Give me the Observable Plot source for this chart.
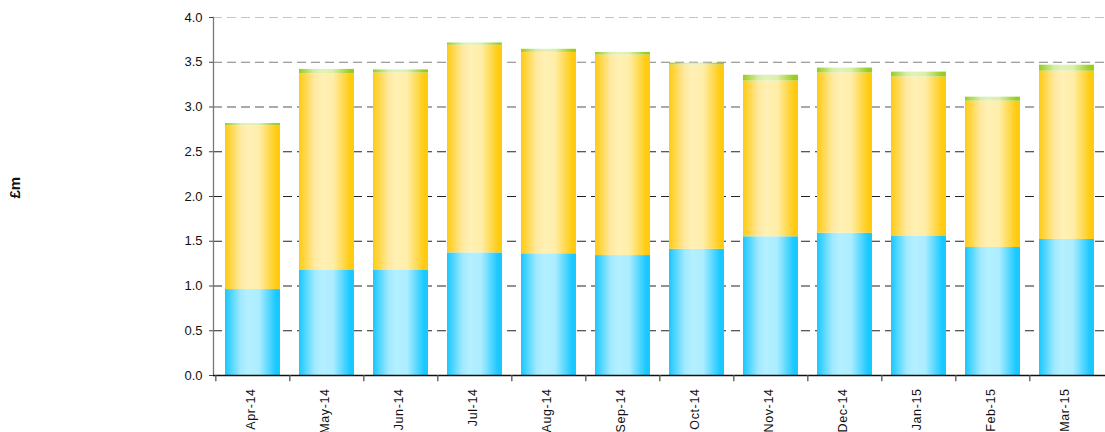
<!DOCTYPE html>
<html>
<head>
<meta charset="utf-8">
<script src="https://cdn.jsdelivr.net/npm/d3@7"></script>
<script src="https://cdn.jsdelivr.net/npm/@observablehq/plot@0.6"></script>
<style>
  html, body { margin: 0; padding: 0; background: #fff; }
  #chart svg { display: block; font-family: "Liberation Sans", Arial, sans-serif; }
</style>
</head>
<body>
<div id="chart"></div>
<script>
const months = ["Apr-14","May-14","Jun-14","Jul-14","Aug-14","Sep-14","Oct-14","Nov-14","Dec-14","Jan-15","Feb-15","Mar-15"];
const seriesNames = ["blue", "yellow", "green"];
const blueValues   = [0.96, 1.18, 1.18, 1.37, 1.36, 1.34, 1.41, 1.55, 1.59, 1.56, 1.43, 1.52];
const yellowValues = [1.83, 2.19, 2.20, 2.32, 2.25, 2.24, 2.06, 1.74, 1.79, 1.775, 1.635, 1.88];
const greenValues  = [0.025, 0.05, 0.035, 0.025, 0.035, 0.03, 0.02, 0.065, 0.055, 0.055, 0.045, 0.067];
const yTicks = [0, 0.5, 1.0, 1.5, 2.0, 2.5, 3.0, 3.5, 4.0];
const yLabel = "£m";

const seriesValues = {blue: blueValues, yellow: yellowValues, green: greenValues};
const data = [];
months.forEach((m, i) => {
  seriesNames.forEach(s => data.push({month: m, series: s, value: seriesValues[s][i]}));
});

const W = 1105, H = 432;
const mL = 213, mR = 0, mT = 17, mB = 57;
const step = (W - mL - mR) / months.length;

function gridColor(v) {
  if (v === 4) return "#c4c4c4";
  if (v === 3.5) return "#808080";
  if (v === 3) return "#555555";
  return "#222222";
}

const plot = Plot.plot({
  width: W,
  height: H,
  marginLeft: mL,
  marginRight: mR,
  marginTop: mT,
  marginBottom: mB,
  style: {fontFamily: "'Liberation Sans', Arial, sans-serif", color: "#111", background: "#fff"},
  x: {type: "band", domain: months, paddingInner: 0.26, paddingOuter: 0.13, align: 0.5, label: null},
  y: {domain: [0, 4], label: null},
  color: {type: "identity"},
  marks: [
    Plot.ruleY(yTicks.filter(d => d > 0), {y: d => d, stroke: d => gridColor(d), strokeDasharray: "9,5", strokeWidth: 1}),
    Plot.barY(data, {
      x: "month",
      y: "value",
      z: "series",
      fill: d => `url(#grad-${d.series})`,
      order: seriesNames
    }),
    Plot.frame({anchor: "left", stroke: "#777", strokeWidth: 1.3}),
    Plot.ruleY([0], {stroke: "#111", strokeWidth: 1.3}),
    Plot.ruleX(months, {x: d => d, dx: -step / 2, y1: 0, y2: -0.07, stroke: "#555", strokeWidth: 1.3}),
    Plot.axisY({ticks: yTicks, tickFormat: d3.format(".1f"), tickSize: 4, tickPadding: 7, fontSize: 13, stroke: "#444", label: null}),
    Plot.axisX({tickSize: 0, tickPadding: 13, tickRotate: -90, fontSize: 12.5, dx: -2, label: null}),
    Plot.text([yLabel], {frameAnchor: "left", text: d => d, rotate: -90, dx: -198, dy: 2, fontSize: 15, fontWeight: "bold", fill: "#111"})
  ]
});

// Horizontal gradients for the bars
const svg = d3.select(plot);
const defs = svg.insert("defs", ":first-child");
const grads = {
  blue:   [["0%", "#18c8ff"], ["28%", "#a0e9ff"], ["42%", "#b4f0ff"], ["62%", "#acedff"], ["93%", "#18c8ff"], ["100%", "#18c8ff"]],
  yellow: [["0%", "#ffcb10"], ["28%", "#ffe9a0"], ["42%", "#fff0b4"], ["62%", "#ffeeaa"], ["93%", "#ffcb10"], ["100%", "#ffcb10"]],
  green:  [["0%", "#99cc1f"], ["28%", "#d8eda8"], ["42%", "#e2f2b8"], ["62%", "#dcefac"], ["93%", "#99cc1f"], ["100%", "#99cc1f"]]
};
for (const [name, stops] of Object.entries(grads)) {
  const g = defs.append("linearGradient").attr("id", `grad-${name}`).attr("x1", "0").attr("x2", "1").attr("y1", "0").attr("y2", "0");
  for (const [off, col] of stops) g.append("stop").attr("offset", off).attr("stop-color", col);
}
svg.selectAll("[aria-label='x-axis tick label'] text").style("letter-spacing", "0.6px");

document.getElementById("chart").appendChild(plot);
</script>
</body>
</html>
